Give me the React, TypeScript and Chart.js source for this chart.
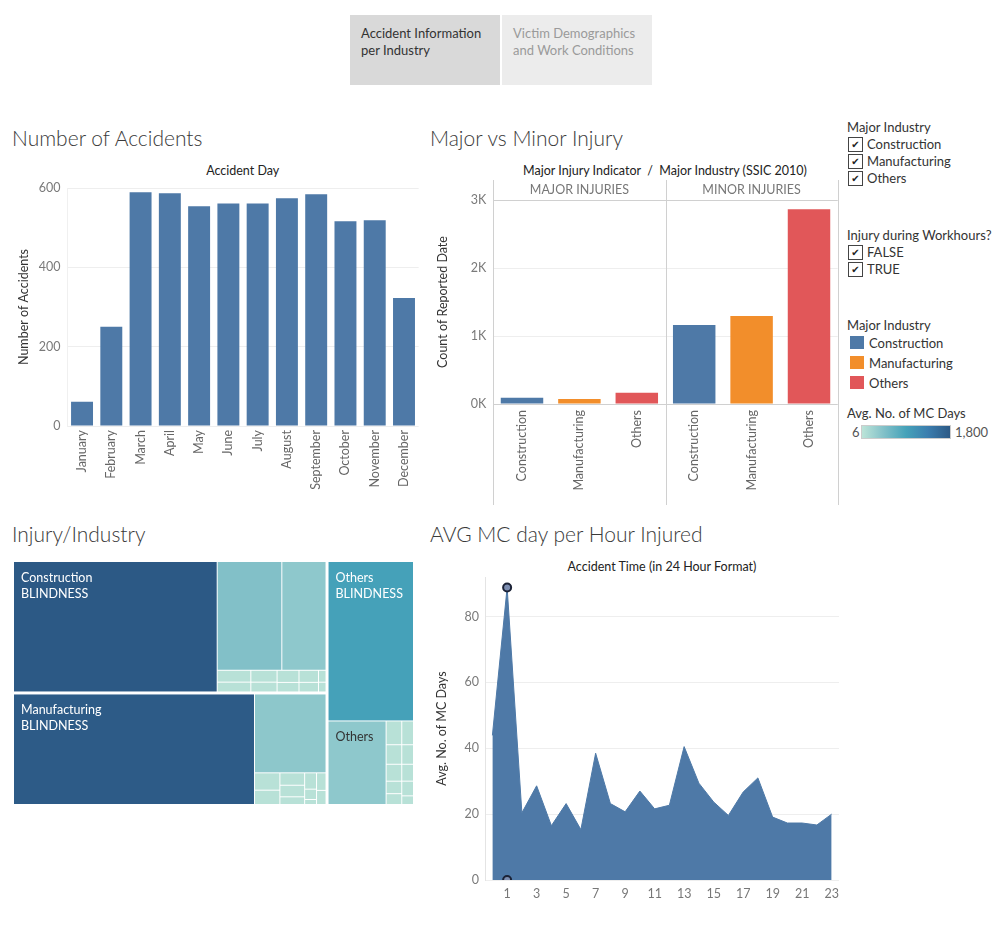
import React, { useEffect, useRef } from 'react';
import { Chart, registerables } from 'chart.js';
Chart.register(...registerables);

const FONT = 'Lato, "Open Sans", "DejaVu Sans", sans-serif';

// ---------- Number of Accidents ----------
const months = ['January', 'February', 'March', 'April', 'May', 'June', 'July', 'August', 'September', 'October', 'November', 'December'];
const accidentCounts = [61, 250, 589, 587, 554, 561, 561, 574, 584, 516, 519, 323];
const accidentMax = 600;
const accidentTickStep = 200;

// ---------- Major vs Minor Injury ----------
const industries = ['Construction', 'Manufacturing', 'Others'];
const industryColors = ['#4e79a7', '#f28e2b', '#e15759'];
const injuryPanels = ['MAJOR INJURIES', 'MINOR INJURIES'];
const majorInjuryCounts = [93, 73, 167];
const minorInjuryCounts = [1162, 1294, 2863];
const injuryMax = 3000;
const injuryTickStep = 1000;

// ---------- AVG MC day per Hour ----------
const hours = ['0', '1', '2', '3', '4', '5', '6', '7', '8', '9', '10', '11', '12', '13', '14', '15', '16', '17', '18', '19', '20', '21', '22', '23'];
const avgMcDays = [43.9, 88.8, 20.4, 28.6, 16.5, 23.2, 15.3, 38.5, 23.2, 20.7, 27.0, 21.6, 22.7, 40.5, 29.4, 23.7, 19.6, 26.7, 31.0, 19.1, 17.3, 17.3, 16.7, 20.0];
const hourTickLabels = ['1', '3', '5', '7', '9', '11', '13', '15', '17', '19', '21', '23'];
const mcHighlightHours = ['1', '1'];
const mcHighlightValues = [88.8, 0];
const mcMax = 92;
const mcTickStep = 20;

// ---------- Injury/Industry treemap ----------
const constructionMain = [264.9, 69.3, 48.5];
const constructionMainMc = [1800, 450, 355];
const constructionMinor = [[3.9, 3.56], [3.05, 2.77], [2.6, 2.26], [2.3, 2.02], [1.0, 0.9]];
const manufacturingMain = [266.1, 56.6];
const manufacturingMainMc = [1780, 365];
const manufacturingMinor = [[4.3, 3.8], [3.0, 2.8, 2.1], [1.9, 1.2, 0.7], [1.8, 1.55]];
const othersMain = [137.1, 48.8];
const othersMainMc = [920, 355];
const othersMinor = [[3.64, 2.99, 2.59, 1.91, 1.81], [2.96, 2.43, 2.1, 1.83, 1.2]];
const minorMc = 40;
const mcRange = [6, 1800];
const mcColorStops = ['#bce4d8', '#81c0c8', '#45a2b9', '#3b7dae', '#2c5985'];

function hexToRgb(h: string) {
  const n = parseInt(h.slice(1), 16);
  return [(n >> 16) & 255, (n >> 8) & 255, n & 255];
}
function mcColor(v: number) {
  let t = (v - mcRange[0]) / (mcRange[1] - mcRange[0]);
  t = Math.max(0, Math.min(1, t));
  const seg = mcColorStops.length - 1;
  const i = Math.min(seg - 1, Math.floor(t * seg));
  const f = t * seg - i;
  const a = hexToRgb(mcColorStops[i]);
  const b = hexToRgb(mcColorStops[i + 1]);
  const c = a.map((x, k) => Math.round(x + (b[k] - x) * f));
  return `rgb(${c[0]},${c[1]},${c[2]})`;
}

type TNode = { dir?: 'h' | 'v'; kids?: TNode[]; size?: number; mc?: number; label?: string[]; group?: boolean };
const leaf = (size: number, mc: number, label?: string[]): TNode => ({ size, mc, label });
const cols = (columns: number[][], mc: number): TNode => ({
  dir: 'h',
  kids: columns.map((c) => ({ dir: 'v' as const, kids: c.map((s) => leaf(s, mc)) })),
});

function buildTree(): TNode {
  const c: TNode = {
    dir: 'h', group: true,
    kids: [
      leaf(constructionMain[0], constructionMainMc[0], [industries[0], 'BLINDNESS']),
      { dir: 'v', kids: [{ dir: 'h', kids: [leaf(constructionMain[1], constructionMainMc[1]), leaf(constructionMain[2], constructionMainMc[2])] }, cols(constructionMinor, minorMc)] },
    ],
  };
  const m: TNode = {
    dir: 'h', group: true,
    kids: [
      leaf(manufacturingMain[0], manufacturingMainMc[0], [industries[1], 'BLINDNESS']),
      { dir: 'v', kids: [leaf(manufacturingMain[1], manufacturingMainMc[1]), cols(manufacturingMinor, minorMc)] },
    ],
  };
  const o: TNode = {
    dir: 'v', group: true,
    kids: [
      leaf(othersMain[0], othersMainMc[0], [industries[2], 'BLINDNESS']),
      { dir: 'h', kids: [leaf(othersMain[1], othersMainMc[1], [industries[2]]), cols(othersMinor, minorMc)] },
    ],
  };
  return { dir: 'h', kids: [{ dir: 'v', kids: [c, m] }, o] };
}

function total(n: TNode): number {
  return n.kids ? n.kids.reduce((s, k) => s + total(k), 0) : n.size || 0;
}

type Rect = { x0: number; y0: number; x1: number; y1: number; n: TNode; g: number[] };
function place(n: TNode, x0: number, y0: number, x1: number, y1: number, g: number[] | null, out: Rect[]) {
  const grp = n.group ? [x0, y0, x1, y1] : g;
  if (!n.kids) {
    out.push({ x0, y0, x1, y1, n, g: grp || [x0, y0, x1, y1] });
    return;
  }
  const tot = total(n);
  let pos = n.dir === 'h' ? x0 : y0;
  for (const k of n.kids) {
    const f = total(k) / tot;
    if (n.dir === 'h') {
      const w = (x1 - x0) * f;
      place(k, pos, y0, pos + w, y1, grp, out);
      pos += w;
    } else {
      const h = (y1 - y0) * f;
      place(k, x0, pos, x1, pos + h, grp, out);
      pos += h;
    }
  }
}

const treemapPlugin = {
  id: 'treemap',
  afterDraw(chart: any) {
    const { ctx } = chart;
    const xs = chart.scales.x;
    const ys = chart.scales.y;
    const rects: Rect[] = [];
    place(buildTree(), 0, 0, 1, 1, null, rects);
    ctx.save();
    for (const r of rects) {
      const gl = xs.getPixelForValue(r.g[0]) + 1.5;
      const gr = xs.getPixelForValue(r.g[2]) - 1.5;
      const gt = ys.getPixelForValue(r.g[1]) + 1.5;
      const gb = ys.getPixelForValue(r.g[3]) - 1.5;
      const L = Math.max(gl, xs.getPixelForValue(r.x0) + 0.5);
      const R = Math.min(gr, xs.getPixelForValue(r.x1) - 0.5);
      const T = Math.max(gt, ys.getPixelForValue(r.y0) + 0.5);
      const B = Math.min(gb, ys.getPixelForValue(r.y1) - 0.5);
      const mc = r.n.mc || 0;
      ctx.fillStyle = mcColor(mc);
      ctx.fillRect(L, T, R - L, B - T);
      if (r.n.label) {
        ctx.fillStyle = mc > 600 ? '#ffffff' : '#333333';
        ctx.font = `12.5px ${FONT}`;
        ctx.textBaseline = 'middle';
        ctx.textAlign = 'left';
        r.n.label.forEach((t, i) => ctx.fillText(t, L + 7, T + 16 + i * 15.5));
      }
    }
    ctx.restore();
  },
};

// ---------- panels for Major vs Minor ----------
const panelPlugin = {
  id: 'panels',
  afterDraw(chart: any) {
    const { ctx, chartArea: a } = chart;
    const x = chart.scales.x;
    const n = industries.length;
    const bounds = [a.left];
    for (let p = 1; p < injuryPanels.length; p++) {
      bounds.push((x.getPixelForValue(p * n - 1) + x.getPixelForValue(p * n)) / 2);
    }
    bounds.push(a.right);
    ctx.save();
    ctx.strokeStyle = '#d0d0d0';
    ctx.lineWidth = 1;
    const top = a.top - 20;
    const bottom = chart.height - 5;
    const line = (x0: number, y0: number, x1: number, y1: number) => {
      ctx.beginPath();
      ctx.moveTo(x0, y0);
      ctx.lineTo(x1, y1);
      ctx.stroke();
    };
    bounds.forEach((b) => {
      const bx = Math.round(b) + 0.5;
      line(bx, top, bx, bottom);
    });
    line(a.left, Math.round(a.top) + 0.5, a.right, Math.round(a.top) + 0.5);
    line(a.left, Math.round(a.bottom) + 0.5, a.right, Math.round(a.bottom) + 0.5);
    ctx.fillStyle = '#777';
    ctx.font = `12.5px ${FONT}`;
    ctx.textAlign = 'center';
    ctx.textBaseline = 'middle';
    injuryPanels.forEach((t, i) => ctx.fillText(t, (bounds[i] + bounds[i + 1]) / 2, a.top - 10));
    ctx.restore();
  },
};

const tickFont = { family: FONT, size: 12.5 };
const titleFont = { family: FONT, size: 12.5 };

function makeAccidents(canvas: HTMLCanvasElement) {
  return new Chart(canvas, {
    type: 'bar',
    data: {
      labels: months,
      datasets: [{ data: accidentCounts, backgroundColor: '#4e79a7', categoryPercentage: 1, barPercentage: 0.75 }],
    },
    options: {
      animation: false,
      responsive: false,
      events: [],
      layout: { padding: { top: 38, right: 0, left: 0, bottom: 0 } },
      plugins: { legend: { display: false }, tooltip: { enabled: false } },
      scales: {
        x: {
          grid: { display: false, drawTicks: false },
          border: { display: false },
          ticks: { maxRotation: 90, minRotation: 90, autoSkip: false, color: '#666', font: tickFont, padding: 4 },
          afterFit: (s: any) => { s.height = 84; },
        },
        y: {
          min: 0,
          max: accidentMax,
          ticks: { stepSize: accidentTickStep, color: '#7a7a7a', font: tickFont, padding: 7 },
          grid: { color: '#eeeeee', drawTicks: false },
          border: { display: true, color: '#f0f0f0' },
          title: { display: true, text: 'Number of Accidents', color: '#333', font: titleFont, padding: { top: 16, bottom: 0 } },
          afterFit: (s: any) => { s.width = 67.4; },
        },
      },
    },
  } as any);
}

function makeInjury(canvas: HTMLCanvasElement) {
  const labels = injuryPanels.flatMap(() => industries);
  const values = [...majorInjuryCounts, ...minorInjuryCounts];
  const colors = injuryPanels.flatMap(() => industryColors);
  return new Chart(canvas, {
    type: 'bar',
    data: {
      labels,
      datasets: [{ data: values, backgroundColor: colors, categoryPercentage: 1, barPercentage: 0.74 }],
    },
    options: {
      animation: false,
      responsive: false,
      events: [],
      layout: { padding: { top: 50, right: 2.3, left: 0, bottom: 0 } },
      plugins: { legend: { display: false }, tooltip: { enabled: false } },
      scales: {
        x: {
          grid: { display: false, drawTicks: false },
          border: { display: false },
          ticks: { maxRotation: 90, minRotation: 90, autoSkip: false, color: '#666', font: tickFont, padding: 6 },
          afterFit: (s: any) => { s.height = 106; },
        },
        y: {
          min: 0,
          max: injuryMax,
          ticks: { stepSize: injuryTickStep, color: '#7a7a7a', font: tickFont, padding: 7, callback: (v: any) => `${Number(v) / 1000}K` },
          grid: { color: '#eeeeee', drawTicks: false },
          border: { display: false },
          title: { display: true, text: 'Count of Reported Date', color: '#333', font: titleFont, padding: { top: 15, bottom: 0 } },
          afterFit: (s: any) => { s.width = 73.3; },
        },
      },
    },
    plugins: [panelPlugin],
  } as any);
}

function makeMc(canvas: HTMLCanvasElement) {
  return new Chart(canvas, {
    type: 'line',
    data: {
      labels: hours,
      datasets: [
        {
          data: mcHighlightHours.map((h, i) => ({ x: h, y: mcHighlightValues[i] })),
          showLine: false,
          pointRadius: 4,
          pointBorderWidth: 2,
          pointBackgroundColor: '#7c8db0',
          pointBorderColor: '#1b2236',
          clip: 0,
          order: 0,
        },
        {
          data: avgMcDays,
          fill: 'origin',
          backgroundColor: '#4e79a7',
          borderColor: '#4e79a7',
          borderWidth: 1,
          pointRadius: 0,
          tension: 0,
          order: 1,
        },
      ],
    },
    options: {
      animation: false,
      responsive: false,
      events: [],
      layout: { padding: { top: 27, right: 0, left: 0, bottom: 0 } },
      plugins: { legend: { display: false }, tooltip: { enabled: false } },
      scales: {
        x: {
          offset: true,
          grid: { display: false, drawTicks: false },
          border: { display: false },
          ticks: {
            autoSkip: false,
            maxRotation: 0,
            color: '#777',
            font: tickFont,
            padding: 6,
            callback: (_v: any, i: number) => (hourTickLabels.includes(hours[i]) ? hours[i] : ''),
          },
          afterFit: (s: any) => { s.height = 30; },
        },
        y: {
          min: 0,
          max: mcMax,
          afterBuildTicks: (s: any) => { s.ticks = s.ticks.filter((t: any) => t.value % mcTickStep === 0); },
          ticks: { stepSize: mcTickStep, color: '#7a7a7a', font: tickFont, padding: 6 },
          grid: { color: '#eeeeee', drawTicks: false },
          border: { display: true, color: '#e4e4e4' },
          title: { display: true, text: 'Avg. No. of MC Days', color: '#333', font: titleFont, padding: { top: 14.5, bottom: 0 } },
          afterFit: (s: any) => { s.width = 65; },
        },
      },
    },
  } as any);
}

function makeTreemap(canvas: HTMLCanvasElement) {
  return new Chart(canvas, {
    type: 'scatter',
    data: { datasets: [] },
    options: {
      animation: false,
      responsive: false,
      events: [],
      layout: { padding: { top: 10.5, left: 12.5, right: 5.5, bottom: 4.5 } },
      plugins: { legend: { display: false }, tooltip: { enabled: false } },
      scales: {
        x: { type: 'linear', min: 0, max: 1, display: false },
        y: { type: 'linear', min: 0, max: 1, reverse: true, display: false },
      },
    },
    plugins: [treemapPlugin],
  } as any);
}

function ChartCanvas(props: { left: number; top: number; width: number; height: number; make: (c: HTMLCanvasElement) => Chart }) {
  const ref = useRef<HTMLCanvasElement>(null);
  useEffect(() => {
    const chart = props.make(ref.current as HTMLCanvasElement);
    return () => chart.destroy();
  }, []);
  return (
    <canvas
      ref={ref}
      width={props.width}
      height={props.height}
      style={{ position: 'absolute', left: props.left, top: props.top, width: props.width, height: props.height }}
    />
  );
}

function Text(props: { x: number; y: number; size?: number; color?: string; weight?: number; center?: boolean; children: React.ReactNode }) {
  const size = props.size || 13;
  const lh = Math.round(size * 1.35);
  return (
    <div
      style={{
        position: 'absolute',
        left: props.center ? props.x - 300 : props.x,
        width: props.center ? 600 : undefined,
        textAlign: props.center ? 'center' : 'left',
        top: props.y - lh / 2,
        lineHeight: `${lh}px`,
        fontSize: size,
        fontFamily: FONT,
        fontWeight: props.weight || 400,
        color: props.color || '#333',
        whiteSpace: 'nowrap',
      }}
    >
      {props.children}
    </div>
  );
}

function CheckRow(props: { y: number; label: string }) {
  return (
    <>
      <div
        style={{
          position: 'absolute', left: 848, top: props.y - 7.5, width: 13, height: 13,
          border: '1px solid #444', fontSize: 10, lineHeight: '13px', textAlign: 'center',
          color: '#222', fontFamily: '"DejaVu Sans", sans-serif',
        }}
      >
        ✔
      </div>
      <Text x={867} y={props.y}>{props.label}</Text>
    </>
  );
}

const filterIndustries = industries;
const workhourOptions = ['FALSE', 'TRUE'];

export default function App() {
  return (
    <div style={{ position: 'absolute', left: 0, top: 0, width: 1000, height: 948, background: '#fff', overflow: 'hidden' }}>
      {/* tabs */}
      <div style={{ position: 'absolute', left: 350, top: 15, width: 150, height: 70, background: '#d9d9d9' }} />
      <div style={{ position: 'absolute', left: 502, top: 15, width: 150, height: 70, background: '#ececec' }} />
      <Text x={361} y={33}>Accident Information</Text>
      <Text x={361} y={50}>per Industry</Text>
      <Text x={513} y={33} color="#9a9a9a">Victim Demographics</Text>
      <Text x={513} y={50} color="#9a9a9a">and Work Conditions</Text>

      {/* section titles */}
      <Text x={12} y={138} size={21} weight={300} color="#3a3a3a">Number of Accidents</Text>
      <Text x={430} y={138} size={21} weight={300} color="#3a3a3a">Major vs Minor Injury</Text>
      <Text x={12} y={534} size={21} weight={300} color="#3a3a3a">Injury/Industry</Text>
      <Text x={430} y={534} size={21} weight={300} color="#3a3a3a">AVG MC day per Hour Injured</Text>

      {/* chart headers */}
      <Text x={242.7} y={170} size={12.5} center color="#222">Accident Day</Text>
      <Text x={665} y={170} size={12.5} center color="#222">Major Injury Indicator&nbsp;&nbsp;/&nbsp;&nbsp;Major Industry (SSIC 2010)</Text>
      <Text x={662} y={566.5} size={12.5} center color="#222">Accident Time (in 24 Hour Format)</Text>

      <ChartCanvas left={0} top={150} width={423} height={360} make={makeAccidents} />
      <ChartCanvas left={420} top={150} width={420} height={360} make={makeInjury} />
      <ChartCanvas left={0} top={550} width={420} height={260} make={makeTreemap} />
      <ChartCanvas left={420} top={550} width={425} height={360} make={makeMc} />

      {/* legends / filters */}
      <Text x={847} y={126.5}>Major Industry</Text>
      {filterIndustries.map((l, i) => (
        <CheckRow key={l} y={144 + i * 17} label={l} />
      ))}
      <Text x={847} y={235}>Injury during Workhours?</Text>
      {workhourOptions.map((l, i) => (
        <CheckRow key={l} y={252 + i * 17} label={l} />
      ))}
      <Text x={847} y={325}>Major Industry</Text>
      {industries.map((l, i) => (
        <React.Fragment key={l}>
          <div style={{ position: 'absolute', left: 850, top: 336 + i * 20, width: 14, height: 13, background: industryColors[i] }} />
          <Text x={869} y={342.5 + i * 20}>{l}</Text>
        </React.Fragment>
      ))}
      <Text x={847} y={413}>Avg. No. of MC Days</Text>
      <Text x={852} y={432} color="#555">{String(mcRange[0])}</Text>
      <div
        style={{
          position: 'absolute', left: 861, top: 425, width: 90, height: 14,
          background: `linear-gradient(to right, ${mcColorStops.join(', ')})`,
          boxSizing: 'border-box', border: '1px solid #ccc',
        }}
      />
      <Text x={955} y={432} color="#555">{mcRange[1].toLocaleString('en-US')}</Text>
    </div>
  );
}
